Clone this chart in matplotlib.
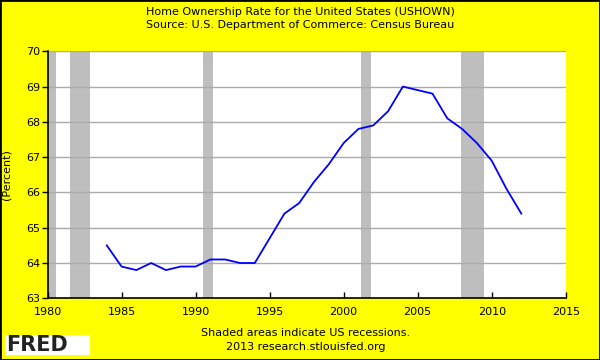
import matplotlib.pyplot as plt
from matplotlib.patches import Rectangle

years = list(range(1984, 2013))
rate = [64.5, 63.9, 63.8, 64.0, 63.8, 63.9, 63.9, 64.1, 64.1, 64.0, 64.0,
        64.7, 65.4, 65.7, 66.3, 66.8, 67.4, 67.8, 67.9, 68.3, 69.0,
        68.9, 68.8, 68.1, 67.8, 67.4, 66.9, 66.1, 65.4]

# recession start / end as decimal years
rec_start = [1980.0, 1981.5, 1990.5, 2001.17, 2007.92]
rec_end = [1980.55, 1982.88, 1991.2, 2001.87, 2009.45]

x_ticks = [1980, 1985, 1990, 1995, 2000, 2005, 2010, 2015]
y_ticks = [63, 64, 65, 66, 67, 68, 69, 70]

# small logo sparkline
icon_x = [0, 1, 2, 3, 4, 5]
icon_a = [0, 1, 0.6, 1.8, 1.5, 2.6]
icon_b = [0.4, 0.5, 1.2, 1.0, 2.2, 2.0]

plt.rcParams['font.family'] = 'DejaVu Sans'
yellow = '#FFFF00'

fig = plt.figure(figsize=(6, 3.6), dpi=100, facecolor=yellow)
fig.patches.append(Rectangle((0, 0), 1, 1, transform=fig.transFigure,
                             fill=False, edgecolor='black', linewidth=2))
ax = fig.add_axes([0.0792, 0.1714, 0.8637, 0.6861])
ax.set_facecolor('white')

for s, e in zip(rec_start, rec_end):
    ax.axvspan(s, e, color='#BEBEBE', linewidth=0, zorder=1)

for y in y_ticks[1:]:
    ax.axhline(y, color='#AAAAAA', linewidth=1, zorder=2)

ax.plot(years, rate, color='#0000FF', linewidth=1.3, zorder=3)

ax.set_xlim(1980, 2015)
ax.set_ylim(63, 70)
ax.set_xticks(x_ticks)
ax.set_yticks(y_ticks)
ax.tick_params(axis='x', direction='in', length=4, width=1, labelsize=8, pad=6)
ax.tick_params(axis='y', direction='out', length=4, width=1, labelsize=8, pad=1.5)
ax.spines['top'].set_visible(False)
ax.spines['right'].set_visible(False)
ax.spines['left'].set_linewidth(1.2)
ax.spines['bottom'].set_linewidth(1.2)
ax.set_ylabel('(Percent)', fontsize=8)
ax.yaxis.set_label_coords(-0.069, 0.5)

fig.text(0.5, 1 - 12 / 360, 'Home Ownership Rate for the United States (USHOWN)',
         ha='center', va='center', fontsize=8)
fig.text(0.5, 1 - 25.5 / 360, 'Source: U.S. Department of Commerce: Census Bureau',
         ha='center', va='center', fontsize=8)
fig.text(0.51, 1 - 333 / 360, 'Shaded areas indicate US recessions.',
         ha='center', va='center', fontsize=8)
fig.text(0.51, 1 - 347 / 360, '2013 research.stlouisfed.org',
         ha='center', va='center', fontsize=8)

# FRED logo
fig.patches.append(Rectangle((5 / 600, 5 / 360), 85 / 600, 20 / 360,
                             transform=fig.transFigure,
                             facecolor='white', edgecolor='none'))
fig.text(6 / 600, 15 / 360, 'FRED', ha='left', va='center', fontsize=15,
         fontweight='heavy', color='#222222')
icon = fig.add_axes([71 / 600, 7 / 360, 17 / 600, 16 / 360])
icon.plot(icon_x, icon_a, color='#7FA86A', linewidth=0.8)
icon.plot(icon_x, icon_b, color='#7F9FC8', linewidth=0.8)
icon.set_xticks([])
icon.set_yticks([])
for sp in icon.spines.values():
    sp.set_visible(False)
icon.patch.set_alpha(0)

fig.savefig('out.png', dpi=100, facecolor=yellow)
